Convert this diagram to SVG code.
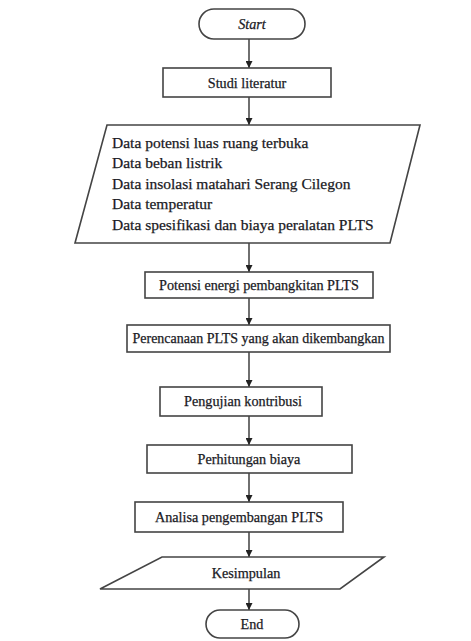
<svg xmlns="http://www.w3.org/2000/svg" width="471" height="641" viewBox="0 0 471 641">
<defs>
<marker id="ah" viewBox="0 0 10 10" refX="10" refY="5" markerWidth="7" markerHeight="7" markerUnits="userSpaceOnUse" orient="auto"><path d="M0,0 L10,5 L0,10 z" fill="#222"/></marker>
<style>
.s{fill:#fff;stroke:#444;stroke-width:1.6}
.t{font-size:14.2px;fill:#1a1a24;stroke:#1a1a24;stroke-width:0.25;text-anchor:middle}
.l{font-size:15.5px;fill:#1a1a24;stroke:#1a1a24;stroke-width:0.25}
.c{stroke:#333;stroke-width:1.4;fill:none;marker-end:url(#ah)}
</style>
</defs>
<rect width="471" height="641" fill="#fff"/>
<g id="connectors">
<line class="c" x1="249" y1="39" x2="249" y2="68"/>
<line class="c" x1="249" y1="97" x2="249" y2="125"/>
<line class="c" x1="249" y1="243" x2="249" y2="272"/>
<line class="c" x1="249" y1="298" x2="249" y2="325"/>
<line class="c" x1="249" y1="352" x2="249" y2="387"/>
<line class="c" x1="249" y1="416" x2="249" y2="445"/>
<line class="c" x1="249" y1="473" x2="249" y2="502"/>
<line class="c" x1="249" y1="532" x2="249" y2="557"/>
<line class="c" x1="249" y1="589" x2="249" y2="610"/>
</g>
<g font-family="'Liberation Serif', 'Times New Roman', serif">
<g id="start">
<rect class="s" x="199" y="9" width="106" height="30" rx="15"/>
<text class="t" x="252" y="29" font-style="italic">Start</text>
</g>
<g id="studi">
<rect class="s" x="163" y="68" width="168" height="29"/>
<text class="t" x="247" y="88">Studi literatur</text>
</g>
<g id="data">
<polygon class="s" points="107,125 420,125 390,243 75,243"/>
<text class="l" x="112" y="148">Data potensi luas ruang terbuka</text>
<text class="l" x="112" y="168">Data beban listrik</text>
<text class="l" x="112" y="189">Data insolasi matahari Serang Cilegon</text>
<text class="l" x="112" y="209">Data temperatur</text>
<text class="l" x="112" y="230">Data spesifikasi dan biaya peralatan PLTS</text>
</g>
<g id="potensi">
<rect class="s" x="145" y="272" width="228" height="26"/>
<text class="t" x="259" y="290">Potensi energi pembangkitan PLTS</text>
</g>
<g id="perencanaan">
<rect class="s" x="127" y="325" width="263" height="27"/>
<text class="t" x="258.5" y="343" textLength="252" lengthAdjust="spacingAndGlyphs">Perencanaan PLTS yang akan dikembangkan</text>
</g>
<g id="pengujian">
<rect class="s" x="160" y="387" width="162" height="29"/>
<text class="t" x="243" y="406">Pengujian kontribusi</text>
</g>
<g id="perhitungan">
<rect class="s" x="147" y="445" width="205" height="28"/>
<text class="t" x="249" y="464">Perhitungan biaya</text>
</g>
<g id="analisa">
<rect class="s" x="135" y="502" width="208" height="30"/>
<text class="t" x="239" y="522">Analisa pengembangan PLTS</text>
</g>
<g id="kesimpulan">
<polygon class="s" points="162,557 384,557 340,589 100,589"/>
<text class="t" x="246" y="578">Kesimpulan</text>
</g>
<g id="end">
<rect class="s" x="206" y="610" width="93" height="28" rx="14"/>
<text class="t" x="252" y="629">End</text>
</g>
</g>
</svg>
